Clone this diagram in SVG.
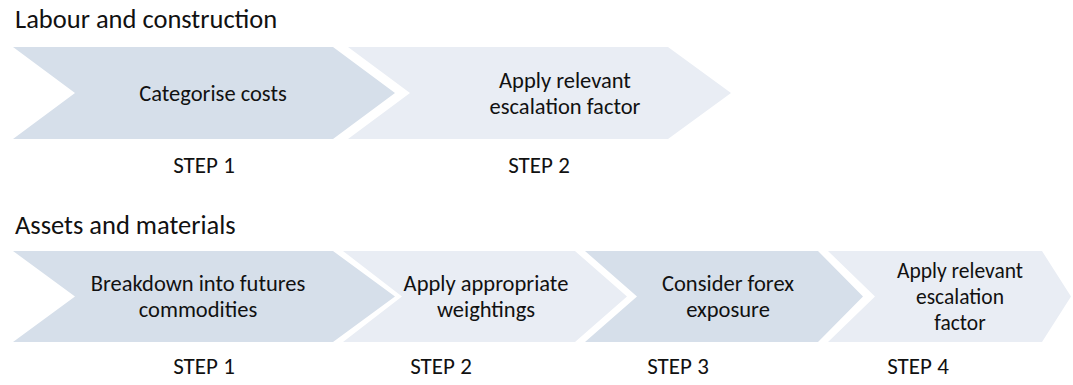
<svg xmlns="http://www.w3.org/2000/svg" width="1073" height="385" viewBox="0 0 1073 385">
<style>
.dark{fill:#D6DFEA}
.light{fill:#E9EDF4}
.t{font-family:Carlito,Calibri,Lato,"Noto Sans",sans-serif;font-size:22.5px;fill:#111;text-anchor:middle}
.t3{font-family:Carlito,Calibri,Lato,"Noto Sans",sans-serif;font-size:21.5px;fill:#111;text-anchor:middle}
.h{font-family:Carlito,Calibri,Lato,"Noto Sans",sans-serif;font-size:26.5px;fill:#111}
.s{font-family:Carlito,Calibri,Lato,"Noto Sans",sans-serif;font-size:23px;fill:#111;text-anchor:middle}
</style>
<rect width="1073" height="385" fill="#fff"/>
<text class="h" x="15" y="28">Labour and construction</text>
<text class="h" x="15" y="234">Assets and materials</text>
<g id="top-step1">
<polygon class="dark" points="13,47 333,47 395,93 333,139 13,139 75,93"/>
<text class="t" x="213" y="101">Categorise costs</text>
<text class="s" x="204" y="173">STEP 1</text>
</g>
<g id="top-step2">
<polygon class="light" points="348,47 668,47 731,93 668,139 348,139 410,93"/>
<text class="t" x="565" y="88">Apply relevant</text>
<text class="t" x="565" y="114">escalation factor</text>
<text class="s" x="539" y="173">STEP 2</text>
</g>
<g id="bottom-step1">
<polygon class="dark" points="13,251 333,251 395,296.5 333,342 13,342 75,296.5"/>
<text class="t" x="198" y="291">Breakdown into futures</text>
<text class="t" x="198" y="317">commodities</text>
<text class="s" x="204" y="374">STEP 1</text>
</g>
<g id="bottom-step2">
<polygon class="light" points="343,251 575,251 627,296.5 575,342 343,342 402,296.5"/>
<text class="t" x="486" y="291">Apply appropriate</text>
<text class="t" x="486" y="317">weightings</text>
<text class="s" x="441" y="374">STEP 2</text>
</g>
<g id="bottom-step3">
<polygon class="dark" points="585,251 818,251 863,296.5 818,342 585,342 637,296.5"/>
<text class="t" x="728" y="291">Consider forex</text>
<text class="t" x="728" y="317">exposure</text>
<text class="s" x="678" y="374">STEP 3</text>
</g>
<g id="bottom-step4">
<polygon class="light" points="828,251 1042,251 1071,296.5 1042,342 828,342 875,296.5"/>
<text class="t3" x="960" y="278">Apply relevant</text>
<text class="t3" x="960" y="304">escalation</text>
<text class="t3" x="960" y="330">factor</text>
<text class="s" x="918" y="374">STEP 4</text>
</g>
<g id="connectors"/>
</svg>
